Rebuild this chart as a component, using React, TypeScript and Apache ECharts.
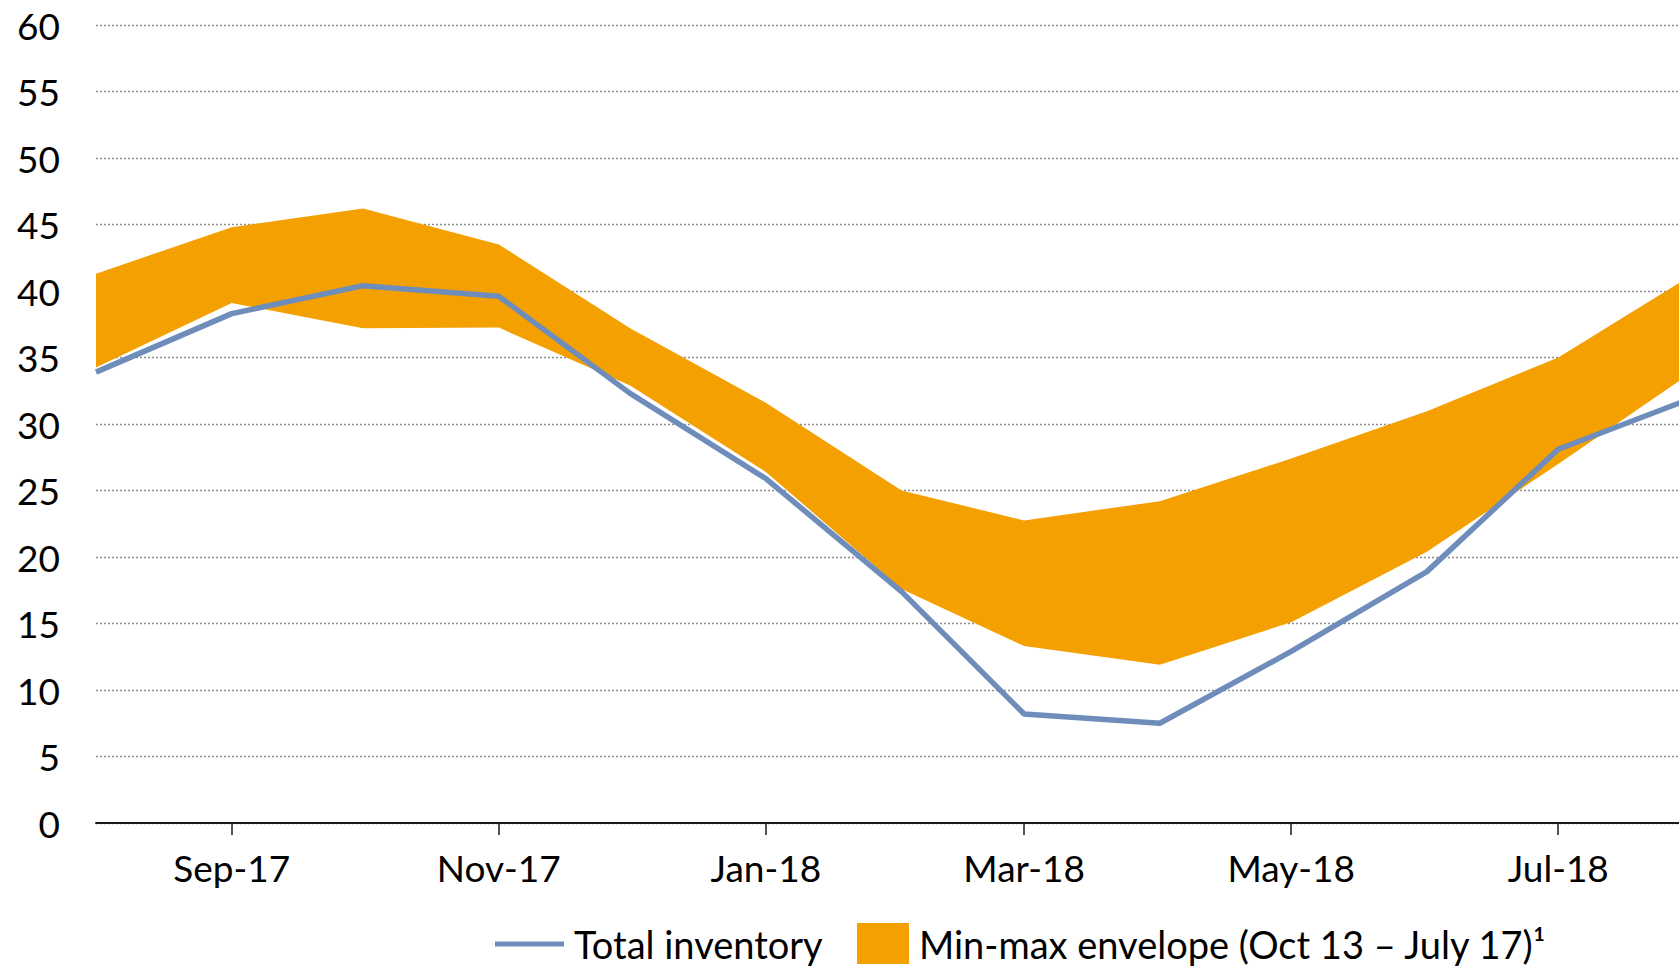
import React, { useEffect, useRef } from "react";
import * as echarts from "echarts";

// ---- data ----
const months = [
  "2017-08-01", "2017-09-01", "2017-10-01", "2017-11-01", "2017-12-01",
  "2018-01-01", "2018-02-01", "2018-03-01", "2018-04-01", "2018-05-01",
  "2018-06-01", "2018-07-01", "2018-08-01",
];
const totalInventory = [33.9, 38.3, 40.4, 39.6, 32.3, 25.9, 17.4, 8.2, 7.5, 12.9, 18.9, 28.1, 32.0];
const envelopeMin = [34.25, 39.1, 37.2, 37.25, 32.9, 26.4, 17.6, 13.3, 11.9, 15.1, 20.4, 27.0, 34.0];
const envelopeMax = [41.3, 44.8, 46.2, 43.5, 37.2, 31.6, 25.0, 22.75, 24.2, 27.4, 30.95, 35.0, 41.3];
const tickMonths = ["2017-09-01", "2017-11-01", "2018-01-01", "2018-03-01", "2018-05-01", "2018-07-01"];
const axisStart = "2017-08-01";
const axisEnd = "2018-07-28T14:00:00";
const yTicks = [0, 60, 5]; // min, max, interval

const lineName = "Total inventory";
const bandName = "Min-max envelope (Oct 13 \u2013 July 17)\u00B9";
const MONTH_ABBR = ["Jan", "Feb", "Mar", "Apr", "May", "Jun", "Jul", "Aug", "Sep", "Oct", "Nov", "Dec"];

const BLUE = "#6F8DBB";
const ORANGE = "#F4A000";
const FONT = "Lato";
const FS = 37;
const LFS = 38;

const DAY = 86400000;

// days since axis start (UTC arithmetic, no timezone issues)
function toDay(s: string): number {
  const [datePart, timePart] = s.split("T");
  const [y, m, d] = datePart.split("-").map(Number);
  let h = 0;
  if (timePart) h = Number(timePart.split(":")[0]);
  return (Date.UTC(y, m - 1, d, h) - Date.UTC(2017, 7, 1)) / DAY;
}

function dayLabel(v: number): string {
  const d = new Date(Date.UTC(2017, 7, 1) + Math.round(v) * DAY);
  return MONTH_ABBR[d.getUTCMonth()] + "-" + String(d.getUTCFullYear()).slice(2);
}

export default function App() {
  const ref = useRef<HTMLDivElement>(null);

  useEffect(() => {
    if (!ref.current) return;
    const chart = echarts.init(ref.current, null, { renderer: "svg" });
    const days = months.map(toDay);
    const tickDays = tickMonths.map(toDay);

    const option: any = {
      animation: false,
      backgroundColor: "#ffffff",
      textStyle: { fontFamily: FONT },
      grid: { left: 96, right: 0, top: 25, bottom: 144, containLabel: false },
      xAxis: {
        type: "value",
        min: toDay(axisStart),
        max: toDay(axisEnd),
        axisLine: { show: true, onZero: false, lineStyle: { color: "#1a1a1a", width: 2 } },
        axisTick: {
          show: true,
          length: 12,
          lineStyle: { color: "#1a1a1a", width: 1.5 },
          customValues: tickDays,
        },
        axisLabel: {
          show: true,
          customValues: tickDays,
          fontFamily: FONT,
          fontSize: FS,
          color: "#000",
          margin: 26,
          formatter: (v: number) => dayLabel(v),
        },
        splitLine: { show: false },
      },
      yAxis: {
        type: "value",
        min: yTicks[0],
        max: yTicks[1],
        interval: yTicks[2],
        axisLine: { show: false },
        axisTick: { show: false },
        axisLabel: { fontFamily: FONT, fontSize: FS, color: "#000", margin: 36 },
        splitLine: { show: true, lineStyle: { color: "#8f8f8f", width: 1.3, type: [2, 2] } },
      },
      legend: [
        {
          data: [{ name: lineName, icon: "rect", itemStyle: { color: BLUE } }],
          left: 495,
          top: 925,
          padding: 0,
          itemWidth: 69,
          itemHeight: 5,
          textStyle: { fontFamily: FONT, fontSize: LFS, color: "#000", padding: [0, 0, 0, 5] },
        },
        {
          data: [{ name: bandName, icon: "rect", itemStyle: { color: ORANGE } }],
          left: 857,
          top: 923,
          padding: 0,
          itemWidth: 52,
          itemHeight: 41,
          textStyle: { fontFamily: FONT, fontSize: LFS, color: "#000", padding: [0, 0, 0, 5] },
        },
      ],
      series: [
        {
          name: bandName,
          type: "custom",
          clip: true,
          itemStyle: { color: ORANGE },
          encode: { x: 0, y: [1, 2] },
          data: days.map((d, i) => [d, envelopeMin[i], envelopeMax[i]]),
          renderItem: (params: any, api: any) => {
            if (params.dataIndex !== 0) return null;
            const top = days.map((d, i) => api.coord([d, envelopeMax[i]]));
            const bottom = days.map((d, i) => api.coord([d, envelopeMin[i]])).reverse();
            return {
              type: "polygon",
              shape: { points: top.concat(bottom) },
              style: { fill: ORANGE, stroke: null },
            };
          },
          z: 2,
        },
        {
          name: lineName,
          type: "line",
          symbol: "none",
          lineStyle: { width: 5.5, color: BLUE },
          itemStyle: { color: BLUE },
          data: days.map((t, i) => [t, totalInventory[i]]),
          z: 5,
        },
      ],
    };

    chart.setOption(option);
    return () => chart.dispose();
  }, []);

  return (
    <div
      ref={ref}
      style={{ position: "fixed", left: 0, top: 0, width: 1679, height: 967, background: "#fff" }}
    />
  );
}
